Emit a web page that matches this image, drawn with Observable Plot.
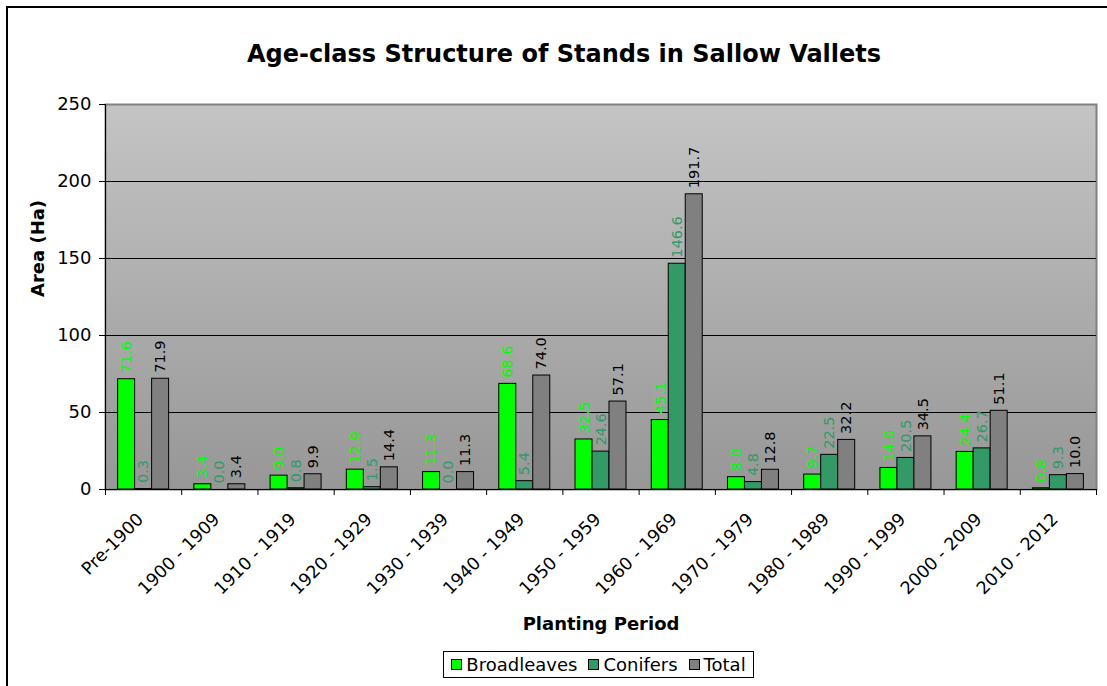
<!DOCTYPE html>
<html><head><meta charset="utf-8">
<script src="https://cdn.jsdelivr.net/npm/d3@7"></script>
<script src="https://cdn.jsdelivr.net/npm/@observablehq/plot@0.6"></script>
<style>
body{margin:0;background:#fff;overflow:hidden;font-family:"DejaVu Sans",sans-serif;}
#wrap{position:relative;width:1107px;height:686px;overflow:hidden;}
#frame{position:absolute;left:6px;top:6px;width:1200px;height:800px;border-left:2px solid #000;border-top:2px solid #000;}
#chart{position:absolute;left:0;top:0;}
#legend{position:absolute;left:443px;top:651px;width:309px;height:25px;border:1px solid #000;background:#fff;display:flex;align-items:center;justify-content:center;gap:11px;font:18px "DejaVu Sans",sans-serif;color:#000;}
#legend .item{display:flex;align-items:center;gap:4px;white-space:nowrap;}
#legend .sw{display:inline-block;width:9px;height:9px;border:1px solid #000;}
</style></head>
<body><div id="wrap"><div id="frame"></div><div id="chart"></div><div id="legend"></div></div>
<script>
const categories = ["Pre-1900","1900 - 1909","1910 - 1919","1920 - 1929","1930 - 1939","1940 - 1949","1950 - 1959","1960 - 1969","1970 - 1979","1980 - 1989","1990 - 1999","2000 - 2009","2010 - 2012"];
const series = ["Broadleaves","Conifers","Total"];
const broadleaves = [71.6,3.4,9.0,12.9,11.3,68.6,32.5,45.1,8.0,9.7,14.0,24.4,0.8];
const conifers = [0.3,0.0,0.8,1.5,0.0,5.4,24.6,146.6,4.8,22.5,20.5,26.7,9.3];
const total = [71.9,3.4,9.9,14.4,11.3,74.0,57.1,191.7,12.8,32.2,34.5,51.1,10.0];
const yTicks = [0,50,100,150,200,250];
const barColors = ["#00ff00","#339966","#808080"];
const labelColors = ["#00ff00","#339966","#000000"];
const title = "Age-class Structure of Stands in Sallow Vallets";
const xTitle = "Planting Period";
const yTitle = "Area (Ha)";

const valuesBySeries = [broadleaves, conifers, total];
const groupFrac = 0.669, barFrac = groupFrac / series.length, groupStart = (1 - groupFrac) / 2;
const rows = categories.flatMap((c, i) => series.map((s, j) => ({
  category: c, series: s, value: valuesBySeries[j][i],
  x1: i + groupStart + j * barFrac, x2: i + groupStart + (j + 1) * barFrac,
  xc: i + groupStart + (j + 0.5) * barFrac
})));
const catRows = categories.map((c, i) => ({category: c, xc: i + 0.5}));

const labelMarks = series.map((s, j) => Plot.text(rows.filter(d => d.series === s), {
  x: "xc", y: "value", text: d => d.value.toFixed(1), fill: labelColors[j],
  rotate: -90, textAnchor: "start", dy: -6, fontSize: 14.5
}));

const svg = Plot.plot({
  width: 1107, height: 686,
  marginLeft: 105, marginRight: 11, marginTop: 104, marginBottom: 197,
  style: {fontFamily: "DejaVu Sans, sans-serif", fontSize: "18px", background: "transparent", color: "#000", overflow: "visible"},
  x: {type: "linear", domain: [0, categories.length], axis: null},
  y: {domain: [0, 250], axis: null},
  color: {domain: series, range: barColors},
  marks: [
    Plot.frame({fill: "url(#bgGrad)", stroke: "#808080", strokeWidth: 2}),
    Plot.gridY(yTicks.filter(v => v > 0 && v < 250), {stroke: "#000", strokeOpacity: 1, strokeWidth: 1}),
    Plot.ruleX([0], {stroke: "#000"}),
    Plot.ruleY([0], {stroke: "#000"}),
    Plot.rectY(rows, {x1: "x1", x2: "x2", y: "value", fill: "series", stroke: "#000", strokeWidth: 1}),
    ...labelMarks,
    Plot.axisY({ticks: yTicks, tickSize: 6, tickPadding: 8, fontSize: 18, label: null, stroke: "#000"}),
    Plot.axisX({ticks: d3.range(categories.length + 1), tickSize: 6, tickFormat: () => "", label: null, stroke: "#000"}),
    Plot.text(catRows, {x: "xc", text: "category", frameAnchor: "bottom", rotate: -45, textAnchor: "end", lineAnchor: "top", dx: -8, dy: 22, fontSize: 17.5}),
    Plot.text([yTitle], {frameAnchor: "left", dx: -67, rotate: -90, fontWeight: "bold", fontSize: 18}),
    Plot.text([xTitle], {frameAnchor: "bottom", dy: 140, lineAnchor: "bottom", fontWeight: "bold", fontSize: 18}),
    Plot.text([title], {frameAnchor: "top", dy: -43, dx: -37, lineAnchor: "bottom", fontWeight: "bold", fontSize: 24})
  ]
});
const defs = d3.select(svg).insert("defs", ":first-child");
const grad = defs.append("linearGradient").attr("id", "bgGrad").attr("x1", 0).attr("y1", 0).attr("x2", 0).attr("y2", 1);
grad.append("stop").attr("offset", "0%").attr("stop-color", "#c4c4c4");
grad.append("stop").attr("offset", "100%").attr("stop-color", "#979797");
document.getElementById("chart").appendChild(svg);

const legend = d3.select("#legend");
series.forEach((s, j) => {
  const item = legend.append("span").attr("class", "item");
  item.append("span").attr("class", "sw").style("background", barColors[j]);
  item.append("span").text(s);
});
</script></body></html>
